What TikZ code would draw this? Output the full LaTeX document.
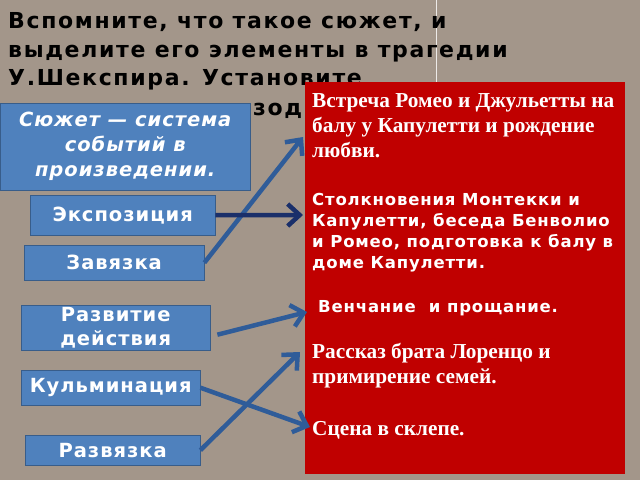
\documentclass[tikz,border=0pt]{standalone}
\usepackage{fontspec}
\setmainfont{Liberation Serif}
\newfontfamily\headfont[LetterSpace=7.5]{DejaVu Sans}
\newfontfamily\spacedfont[LetterSpace=5]{DejaVu Sans}
\usetikzlibrary{arrows.meta}
\definecolor{granite}{RGB}{163,150,138}
\definecolor{stagefill}{RGB}{79,129,189}
\definecolor{stageline}{RGB}{56,93,138}
\definecolor{episode}{RGB}{192,0,0}
\definecolor{linkblue}{RGB}{47,92,153}
\definecolor{linknavy}{RGB}{26,47,106}
\tikzstyle{titleline}=[anchor=base west, inner sep=0pt, font=\headfont\bfseries\fontsize{22}{28}\selectfont]
\tikzstyle{stage}=[draw=stageline, fill=stagefill, text=white, inner sep=0pt, anchor=north west, align=center, font=\spacedfont\bfseries\fontsize{19.5}{24}\selectfont]
\tikzstyle{serifline}=[text=white, anchor=base west, inner sep=0pt, align=left, font=\bfseries\fontsize{21.3}{25}\selectfont]
\tikzstyle{sansline}=[text=white, anchor=base west, inner sep=0pt, align=left, font=\spacedfont\bfseries\fontsize{16.5}{21}\selectfont]
\tikzstyle{link}=[draw=linkblue, line width=4.5pt, -{Straight Barb[length=12pt,width=22pt]}]
\newcommand{\stagebox}[5][]{% Syntax: [extra options] {name} {top left} {width} {height} {text}
  \node[stage, #1, minimum width=#4, minimum height=#5] (#2) at (#3) }

\begin{document}
\begin{tikzpicture}[x=1pt,y=-1pt]
  \fill[granite] (0,0) rectangle (640,480);
  \useasboundingbox (0,0) rectangle (640,480);
  \draw[white!80!granite, line width=0.8pt] (436,0) -- (436,82);
  % question
  \node[titleline] (q1) at (8,28) {Вспомните, что такое сюжет, и};
  \node[titleline] (q2) at (8,57) {выделите его элементы в трагедии};
  \node[titleline] (q3) at (8,85.5) {У.Шекспира. Установите};
  \node[titleline] (q4) at (253,115) {зод};
  % episodes (multi-line nodes sit on their last baseline)
  \node[fill=episode, anchor=north west, minimum width=320pt, minimum height=392pt, inner sep=0pt] (episodes) at (305,82) {};
  \node[serifline] (meet) at (312,157) {Встреча Ромео и Джульетты на\\балу у Капулетти и рождение\\любви.};
  \node[sansline] (fight) at (312,268) {Столкновения Монтекки и\\Капулетти, беседа Бенволио\\и Ромео, подготовка к балу в\\доме Капулетти.};
  \node[sansline] (wedding) at (318,312) {Венчание~ и прощание.};
  \node[serifline] (story) at (312,383) {Рассказ брата Лоренцо и\\примирение семей.};
  \node[serifline] (crypt) at (312,435) {Сцена в склепе.};
  % plot elements
  \stagebox[font=\spacedfont\bfseries\itshape\fontsize{19.5}{25}\selectfont]{plot}{0,103}{250pt}{87pt} {Сюжет — система\\событий в\\произведении.};
  \stagebox{expo}{30,195}{185pt}{40pt} {Экспозиция};
  \stagebox{tie}{24,245}{180pt}{35pt} {Завязка};
  \stagebox{rise}{21,305}{189pt}{45pt} {Развитие\\действия};
  \stagebox{peak}{21,370}{179pt}{35pt} {Кульминация};
  \stagebox{end}{25,435}{175pt}{30pt} {Развязка};
  % links
  \coordinate (toMeet) at (303,137);
  \coordinate (toFight) at (303,215);
  \coordinate (toWedding) at (307,312);
  \coordinate (toStory) at (300,352);
  \coordinate (toCrypt) at (310,427);
  \draw[link] (tie.east) -- (toMeet);
  \draw[link, draw=linknavy] (expo.east) -- (toFight);
  \draw[link] ([xshift=7pt,yshift=-7pt]rise.east) -- (toWedding);
  \draw[link] (end.east) -- (toStory);
  \draw[link] (peak.east) -- (toCrypt);
\end{tikzpicture}
\end{document}
